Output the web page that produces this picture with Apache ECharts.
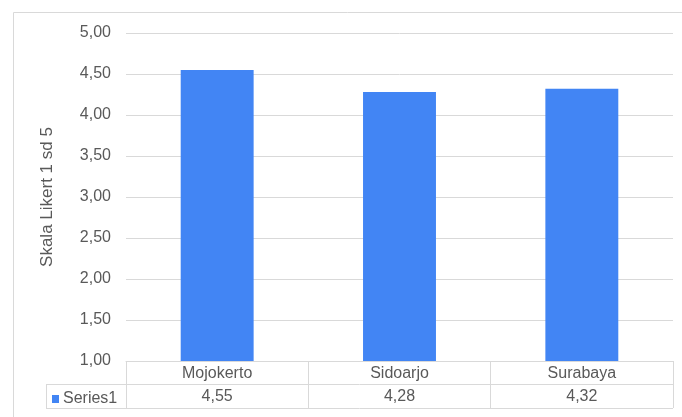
<!DOCTYPE html>
<html>
<head>
<meta charset="utf-8">
<script src="https://cdn.jsdelivr.net/npm/echarts@6/dist/echarts.min.js"></script>
<style>
  html, body { margin: 0; padding: 0; background: #fff; }
  #chart { width: 682px; height: 417px; }
</style>
</head>
<body>
<div id="chart"></div>
<script>
var categories = ['Mojokerto', 'Sidoarjo', 'Surabaya']
var values = [4.55, 4.28, 4.32]
var seriesName = 'Series1'
var yName = 'Skala Likert 1 sd 5'

var lineColor = '#d9d9d9'
var textColor = '#595959'
var font = '"Liberation Sans", Arial, sans-serif'

function fmt(v) {
  return v.toFixed(2).replace('.', ',')
}

var chart = echarts.init(document.getElementById('chart'))
chart.setOption({
  animation: false,
  textStyle: { fontFamily: font },
  grid: { left: 126, right: 9, top: 33, bottom: 56 },
  legend: {
    data: [seriesName],
    left: 47, top: 386,
    icon: 'rect', itemWidth: 7, itemHeight: 8, itemGap: 2,
    textStyle: { color: textColor, fontSize: 16, fontFamily: font, padding: [0, 0, 0, -1] }
  },
  xAxis: [
    {
      type: 'category',
      data: categories,
      axisLine: { lineStyle: { color: lineColor } },
      axisTick: { show: true, length: 47, lineStyle: { color: lineColor } },
      axisLabel: { color: textColor, fontSize: 16, margin: 5, fontFamily: font }
    },
    {
      type: 'category',
      data: values.map(fmt),
      position: 'bottom',
      offset: 23,
      axisLine: { show: false },
      axisTick: { show: false },
      axisLabel: { color: textColor, fontSize: 16, margin: 5, fontFamily: font }
    }
  ],
  yAxis: {
    type: 'value',
    min: 1, max: 5, interval: 0.5,
    name: yName,
    nameLocation: 'middle',
    nameGap: 70,
    nameTextStyle: { color: textColor, fontSize: 17, fontFamily: font },
    axisLine: { show: false },
    axisTick: { show: false },
    axisLabel: { color: textColor, fontSize: 16, margin: 15, formatter: fmt, fontFamily: font },
    splitLine: { lineStyle: { color: lineColor, width: 1 } }
  },
  series: [{
    name: seriesName,
    type: 'bar',
    data: values,
    barWidth: '40%',
    itemStyle: { color: '#4285f4' }
  }],
  graphic: [
    // outer frame
    { type: 'line', shape: { x1: 13.5, y1: 12.5, x2: 682, y2: 12.5 }, style: { stroke: lineColor, lineWidth: 1 } },
    { type: 'line', shape: { x1: 13.5, y1: 12.5, x2: 13.5, y2: 417 }, style: { stroke: lineColor, lineWidth: 1 } },
    // data table rows
    { type: 'line', shape: { x1: 46, y1: 384.5, x2: 673, y2: 384.5 }, style: { stroke: lineColor, lineWidth: 1 } },
    { type: 'line', shape: { x1: 46, y1: 408.5, x2: 673, y2: 408.5 }, style: { stroke: lineColor, lineWidth: 1 } },
    { type: 'line', shape: { x1: 46.5, y1: 384.5, x2: 46.5, y2: 408.5 }, style: { stroke: lineColor, lineWidth: 1 } }
  ]
})
</script>
</body>
</html>
